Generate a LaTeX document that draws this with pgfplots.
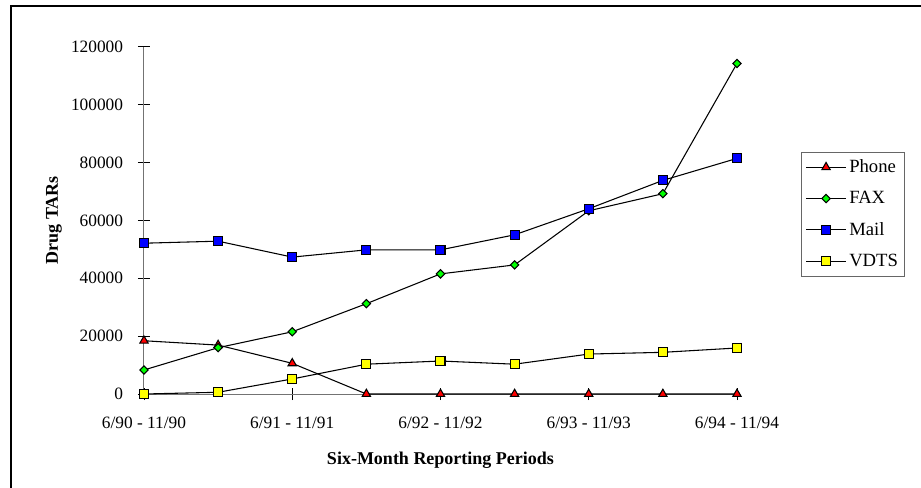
\documentclass[border=0pt]{standalone}
\usepackage{fontspec}
\setmainfont{Liberation Serif}
\usepackage{pgfplots}
\pgfplotsset{compat=1.18}
\definecolor{mred}{RGB}{255,0,0}
\definecolor{mgreen}{RGB}{0,255,0}
\definecolor{mblue}{RGB}{0,0,255}
\definecolor{myellow}{RGB}{255,255,0}
\begin{document}
\fontsize{13.5}{16}\selectfont
\begin{tikzpicture}
\useasboundingbox (-108pt,-69.75pt) rectangle (582.75pt,295.5pt);
\draw[line width=1.5pt] (-99.75pt,-95pt) rectangle (610pt,291pt);
\begin{axis}[
  at={(0pt,0pt)}, anchor=south west,
  scale only axis, width=444.75pt, height=260.5pt,
  xmin=0, xmax=8, ymin=0, ymax=120000,
  axis lines*=left,
  axis line style={draw=gray!90!black, line width=0.75pt},
  tick align=center, major tick length=9pt,
  tick style={black, line width=0.6pt},
  xtick={0,2,4,6,8},
  xticklabels={6/90 - 11/90, 6/91 - 11/91, 6/92 - 11/92, 6/93 - 11/93, 6/94 - 11/94},
  ytick={0,20000,40000,60000,80000,100000,120000},
  scaled y ticks=false,
  /pgf/number format/assume math mode=true,
  yticklabel style={/pgf/number format/fixed, /pgf/number format/1000 sep={}, xshift=-6.5pt},
  xticklabel style={yshift=-8pt},
  ticklabel style={font=\fontsize{13}{16}\selectfont},
  xlabel={\textbf{Six-Month Reporting Periods}},
  ylabel={\textbf{Drug TARs}},
  xlabel style={at={(axis description cs:0.5,-0.19)}, anchor=center, font=\fontsize{13.5}{16}\selectfont},
  ylabel style={at={(axis description cs:-0.152,0.5)}, anchor=center, font=\fontsize{13.5}{16}\selectfont},
  clip=false,
  every axis plot/.append style={black, line width=0.8pt, mark options={solid, draw=black, line width=0.6pt}},
  legend style={at={(1.108,0.698)}, anchor=north west, draw=gray!80!black, line width=0.75pt,
    font=\fontsize{14}{16}\selectfont, inner xsep=3pt, inner ysep=3.5pt, row sep=8pt},
  legend cell align=left,
  legend image code/.code={
    \draw[mark repeat=2, mark phase=2] plot coordinates {(0pt,0pt) (15pt,0pt) (30pt,0pt)};},
]
\addplot[mark=triangle*, mark size=3.6pt, mark options={fill=mred}] coordinates {
(0,18400) (1,16900) (2,10600) (3,0) (4,0) (5,0) (6,0) (7,0) (8,0)};
\addlegendentry{Phone}
\addplot[mark=square*, mark size=2.2pt, mark options={fill=mgreen, rotate=45}] coordinates {
(0,8300) (1,16000) (2,21500) (3,31200) (4,41500) (5,44600) (6,63300) (7,69200) (8,114200)};
\addlegendentry{FAX}
\addplot[mark=square*, mark size=3.4pt, mark options={fill=mblue}] coordinates {
(0,52100) (1,52800) (2,47300) (3,49800) (4,49800) (5,55000) (6,64000) (7,73800) (8,81400)};
\addlegendentry{Mail}
\addplot[mark=square*, mark size=3.4pt, mark options={fill=myellow}] coordinates {
(0,0) (1,600) (2,5200) (3,10300) (4,11400) (5,10300) (6,13800) (7,14400) (8,15900)};
\addlegendentry{VDTS}
\end{axis}
\end{tikzpicture}
\end{document}
